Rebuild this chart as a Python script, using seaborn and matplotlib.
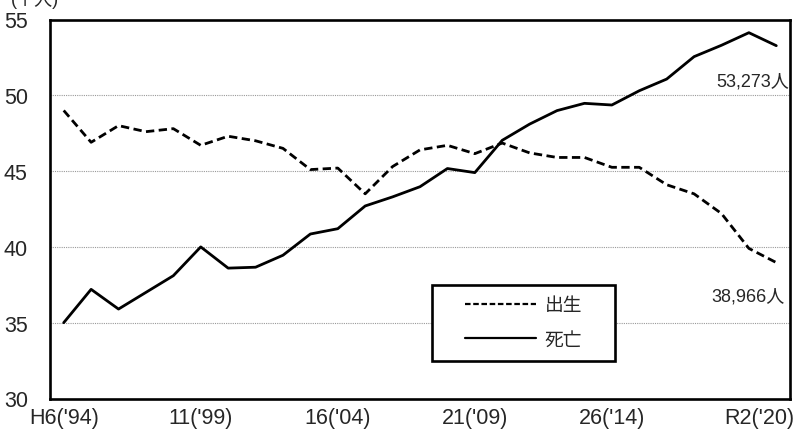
import matplotlib
matplotlib.use("Agg")
import matplotlib.pyplot as plt
from matplotlib import font_manager
from matplotlib.patches import Rectangle
from matplotlib.lines import Line2D
import matplotlib.transforms as mtransforms
import seaborn as sns
import pandas as pd

# Births and deaths per year (thousands), H6 (1994) to R2 (2020)
years = list(range(1994, 2021))
births = [49.0, 46.9, 48.0, 47.6, 47.8, 46.7, 47.3, 47.0, 46.5, 45.1, 45.2,
          43.5, 45.3, 46.4, 46.7, 46.15, 46.85, 46.2, 45.9, 45.9, 45.25,
          45.25, 44.1, 43.5, 42.2, 39.9, 38.966]
deaths = [35.0, 37.2, 35.9, 37.0, 38.1, 40.0, 38.6, 38.66, 39.45, 40.85, 41.2,
          42.7, 43.3, 43.97, 45.17, 44.9, 47.03, 48.1, 48.99, 49.47, 49.36,
          50.3, 51.07, 52.55, 53.3, 54.13, 53.273]
tick_years = [1994, 1999, 2004, 2009, 2014, 2020]
tick_labels = ["H6('94)", "11('99)", "16('04)", "21('09)", "26('14)", "R2('20)"]
series_names = ["出生", "死亡"]
end_labels = ["38,966人", "53,273人"]

sns.set_theme(style="white")
names = {f.name for f in font_manager.fontManager.ttflist}
base = "Liberation Sans Narrow" if "Liberation Sans Narrow" in names else "Liberation Sans"
plt.rcParams["font.family"] = [base, "Noto Sans CJK JP", "DejaVu Sans"]

idx = list(range(len(years)))
df = pd.DataFrame({"idx": idx + idx,
                   "value": births + deaths,
                   "series": [series_names[0]] * len(idx) + [series_names[1]] * len(idx)})

fig = plt.figure(figsize=(7.98, 4.39), dpi=100)
ax = fig.add_axes([50 / 798, 1 - 399.5 / 439, 740 / 798, 379 / 439])

sns.lineplot(data=df, x="idx", y="value", style="series", color="black",
             dashes={series_names[0]: (3, 1.6), series_names[1]: ""},
             linewidth=2.0, legend=False, ax=ax, zorder=3)

ax.set_xlim(-0.5, len(years) - 0.5)
ax.set_ylim(30, 55)
ax.set_yticks([30, 35, 40, 45, 50, 55])
ax.set_yticklabels(["30", "35", "40", "45", "50", "55"], fontsize=15.5)
ax.tick_params(axis="y", length=0, pad=16)

# category boundary ticks on the bottom axis
ax.set_xticks([i - 0.5 for i in range(len(years) + 1)])
ax.set_xticklabels([])
ax.tick_params(axis="x", which="major", direction="in", length=5, width=1.5,
               color="black")
ax.set_xticks([years.index(y) for y in tick_years], minor=True)
ax.set_xticklabels(tick_labels, minor=True, fontsize=15.5)
ax.tick_params(axis="x", which="minor", length=0, pad=6)
last = ax.xaxis.get_minorticklabels()[-1]
last.set_transform(last.get_transform() +
                   mtransforms.ScaledTranslation(-17 / 100, 0, fig.dpi_scale_trans))

ax.set_xlabel("")
ax.set_ylabel("")
for yv in [35, 40, 45, 50]:
    ax.axhline(yv, color="#9a9a9a", linestyle=(0, (1, 1)), linewidth=0.8, zorder=1)
for s in ax.spines.values():
    s.set_color("black")
    s.set_linewidth(1.9)

# value labels at the last year
ax.text(len(years) - 1 + 0.45, deaths[-1] - 2.3, end_labels[1], ha="right",
        va="center", fontsize=13, zorder=4)
ax.text(len(years) - 1 + 0.3, births[-1] - 2.2, end_labels[0], ha="right",
        va="center", fontsize=13, zorder=4)

# legend box
ax.add_patch(Rectangle((382 / 740, 37.5 / 379), 183 / 740, 76 / 379,
                       transform=ax.transAxes, facecolor="white",
                       edgecolor="black", linewidth=1.9, zorder=5))
handles = [Line2D([], [], color="black", linewidth=1.6, linestyle=(0, (2.5, 1.2))),
           Line2D([], [], color="black", linewidth=1.6)]
leg = ax.legend(handles, series_names, loc="center",
                bbox_to_anchor=((382 + 91.5) / 740, (37.5 + 38) / 379),
                frameon=False, fontsize=13.5, handlelength=3.8, handletextpad=0.45,
                labelspacing=0.95)
leg.set_zorder(6)

fig.text(35 / 798, 1 - 9 / 439, "(千人)", ha="center", va="bottom", fontsize=13)

fig.savefig("out.png", dpi=100)
